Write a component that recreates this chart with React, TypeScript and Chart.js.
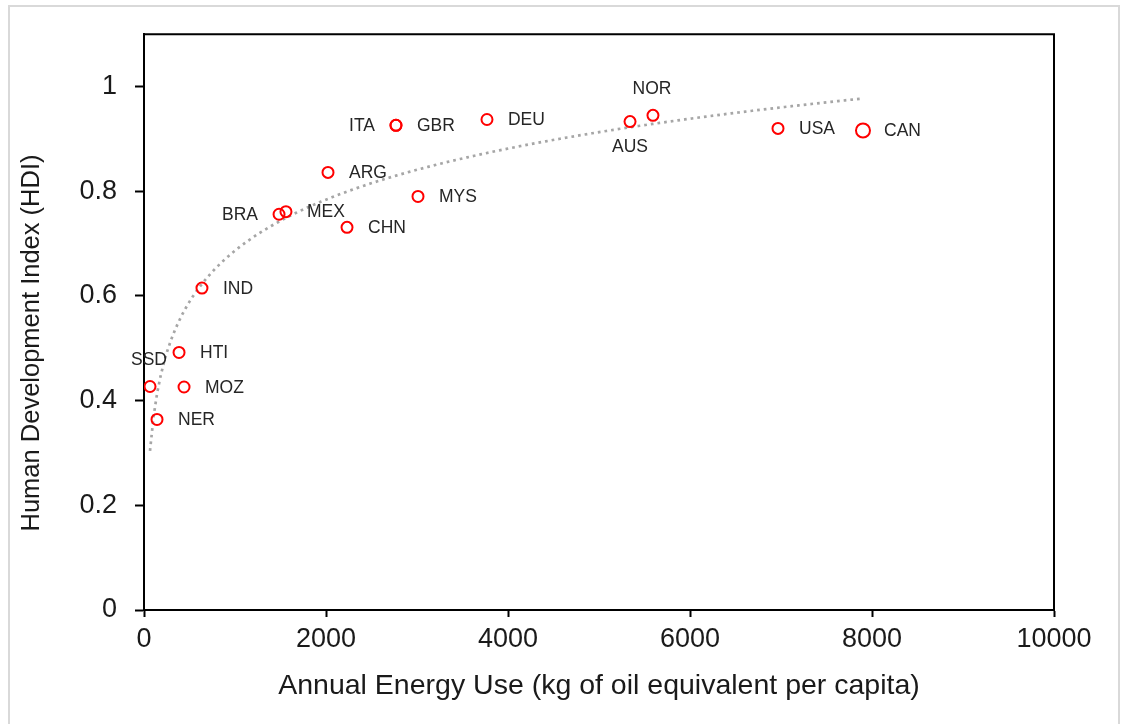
import React, { useEffect, useRef } from 'react';
import { Chart, registerables } from 'chart.js';

Chart.register(...registerables);

const countries = ['SSD', 'NER', 'MOZ', 'HTI', 'IND', 'BRA', 'MEX', 'ARG', 'CHN', 'MYS', 'ITA', 'GBR', 'DEU', 'AUS', 'NOR', 'USA', 'CAN'];
const energyUse = [66, 143, 440, 385, 637, 1484, 1560, 2022, 2231, 3011, 2769, 2769, 3769, 5341, 5593, 6967, 7901];
const hdi = [0.427, 0.364, 0.426, 0.492, 0.615, 0.756, 0.761, 0.836, 0.731, 0.79, 0.926, 0.926, 0.937, 0.933, 0.945, 0.92, 0.916];
const xTicks = [0, 2000, 4000, 6000, 8000, 10000];
const yTicks = [0, 0.2, 0.4, 0.6, 0.8, 1];
const xTitle = 'Annual Energy Use (kg of oil equivalent per capita)';
const yTitle = 'Human Development Index (HDI)';

const FONT = '"Liberation Sans", Arial, sans-serif';

// logarithmic least-squares trendline (y = a ln x + b), as in the source spreadsheet
function logTrend(xs: number[], ys: number[]) {
  const ls = xs.map((x) => Math.log(x));
  const n = ls.length;
  const mL = ls.reduce((s, v) => s + v, 0) / n;
  const mY = ys.reduce((s, v) => s + v, 0) / n;
  let sxy = 0;
  let sxx = 0;
  for (let i = 0; i < n; i++) {
    sxy += (ls[i] - mL) * (ys[i] - mY);
    sxx += (ls[i] - mL) * (ls[i] - mL);
  }
  const a = sxy / sxx;
  const b = mY - a * mL;
  const minX = Math.min(...xs);
  const maxX = Math.max(...xs);
  const pts: { x: number; y: number }[] = [];
  const steps = 200;
  for (let k = 0; k <= steps; k++) {
    const x = minX + ((maxX - minX) * k) / steps;
    pts.push({ x, y: a * Math.log(x) + b });
  }
  return pts;
}

const placement: Record<string, string> = { SSD: 'top', NOR: 'top', AUS: 'bottom', ITA: 'left', BRA: 'left' };

const labelPlugin = {
  id: 'pointLabels',
  afterDatasetsDraw(chart: any) {
    const ctx = chart.ctx;
    const meta = chart.getDatasetMeta(1);
    ctx.save();
    ctx.font = `17.5px ${FONT}`;
    ctx.fillStyle = '#262626';
    meta.data.forEach((el: any, i: number) => {
      const name = countries[i];
      const pos = placement[name] || 'right';
      const { x, y } = el;
      ctx.textBaseline = 'middle';
      if (pos === 'right') {
        ctx.textAlign = 'left';
        ctx.fillText(name, x + 21, y + 1);
      } else if (pos === 'left') {
        ctx.textAlign = 'right';
        ctx.fillText(name, x - 21, y + 1);
      } else if (pos === 'top') {
        ctx.textAlign = 'center';
        ctx.fillText(name, x - 1, y - 26);
      } else {
        ctx.textAlign = 'center';
        ctx.fillText(name, x, y + 26);
      }
    });
    ctx.restore();
  },
};

const framePlugin = {
  id: 'frame',
  afterDraw(chart: any) {
    const { ctx, chartArea } = chart;
    ctx.save();
    ctx.strokeStyle = '#000';
    ctx.lineWidth = 2;
    ctx.beginPath();
    ctx.moveTo(chartArea.left, chartArea.top);
    ctx.lineTo(chartArea.right, chartArea.top);
    ctx.lineTo(chartArea.right, chartArea.bottom);
    ctx.stroke();

    ctx.fillStyle = '#1a1a1a';
    ctx.textAlign = 'center';
    ctx.textBaseline = 'middle';
    ctx.font = `28.5px ${FONT}`;
    ctx.fillText(xTitle, (chartArea.left + chartArea.right) / 2, 686);
    ctx.translate(32, 343);
    ctx.rotate(-Math.PI / 2);
    ctx.font = `25.5px ${FONT}`;
    ctx.fillText(yTitle, 0, 0);
    ctx.restore();
  },
};

export default function App() {
  const ref = useRef<HTMLCanvasElement | null>(null);

  useEffect(() => {
    if (!ref.current) return;
    const points = energyUse.map((x, i) => ({ x, y: hdi[i] }));
    const chart = new Chart(ref.current, {
      type: 'scatter',
      data: {
        datasets: [
          {
            type: 'line',
            label: 'Trend',
            data: logTrend(energyUse, hdi),
            borderColor: '#a6a6a6',
            borderWidth: 2.7,
            borderDash: [2.7, 4],
            pointRadius: 0,
            fill: false,
            tension: 0,
            order: 2,
          } as any,
          {
            label: 'Countries',
            data: points,
            pointStyle: 'circle',
            pointRadius: (c: any) => (countries[c.dataIndex] === 'CAN' ? 7 : 5.5),
            pointBorderWidth: 2,
            pointBorderColor: '#ff0000',
            pointBackgroundColor: 'rgba(255,255,255,0)',
            borderColor: '#ff0000',
            backgroundColor: 'rgba(255,255,255,0)',
            order: 1,
          },
        ],
      },
      options: {
        responsive: false,
        animation: false,
        events: [],
        layout: { padding: { left: 0, right: 67, top: 33, bottom: 0 } },
        plugins: { legend: { display: false }, tooltip: { enabled: false } },
        scales: {
          x: {
            type: 'linear',
            min: 0,
            max: 10000,
            afterBuildTicks: (s: any) => {
              s.ticks = xTicks.map((v) => ({ value: v }));
            },
            afterFit: (s: any) => {
              s.height = 114;
            },
            grid: { drawOnChartArea: false, drawTicks: true, tickLength: 7, tickColor: '#000', tickWidth: 2 },
            border: { display: true, color: '#000', width: 2 },
            ticks: {
              color: '#1a1a1a',
              font: { family: FONT, size: 27 },
              padding: 6,
              maxRotation: 0,
              callback: (v: any) => String(v),
            },
            title: { display: false },
          },
          y: {
            type: 'linear',
            min: 0,
            max: 1.1,
            afterBuildTicks: (s: any) => {
              s.ticks = yTicks.map((v) => ({ value: v }));
            },
            afterFit: (s: any) => {
              s.width = 144;
            },
            grid: { drawOnChartArea: false, drawTicks: true, tickLength: 9, tickColor: '#000', tickWidth: 2 },
            border: { display: true, color: '#000', width: 2 },
            ticks: {
              color: '#1a1a1a',
              font: { family: FONT, size: 27 },
              padding: 18,
              callback: (v: any) => String(v),
            },
            title: { display: false },
          },
        },
      },
      plugins: [labelPlugin, framePlugin],
    });
    return () => chart.destroy();
  }, []);

  return (
    <div style={{ position: 'fixed', left: 0, top: 0, width: 1121, height: 724, overflow: 'hidden', background: '#fff' }}>
      <div
        style={{
          position: 'absolute',
          left: 8,
          top: 5,
          width: 1112,
          height: 760,
          border: '2px solid #d9d9d9',
          boxSizing: 'border-box',
        }}
      />
      <canvas ref={ref} width={1121} height={724} style={{ position: 'absolute', left: 0, top: 0, width: 1121, height: 724 }} />
    </div>
  );
}
